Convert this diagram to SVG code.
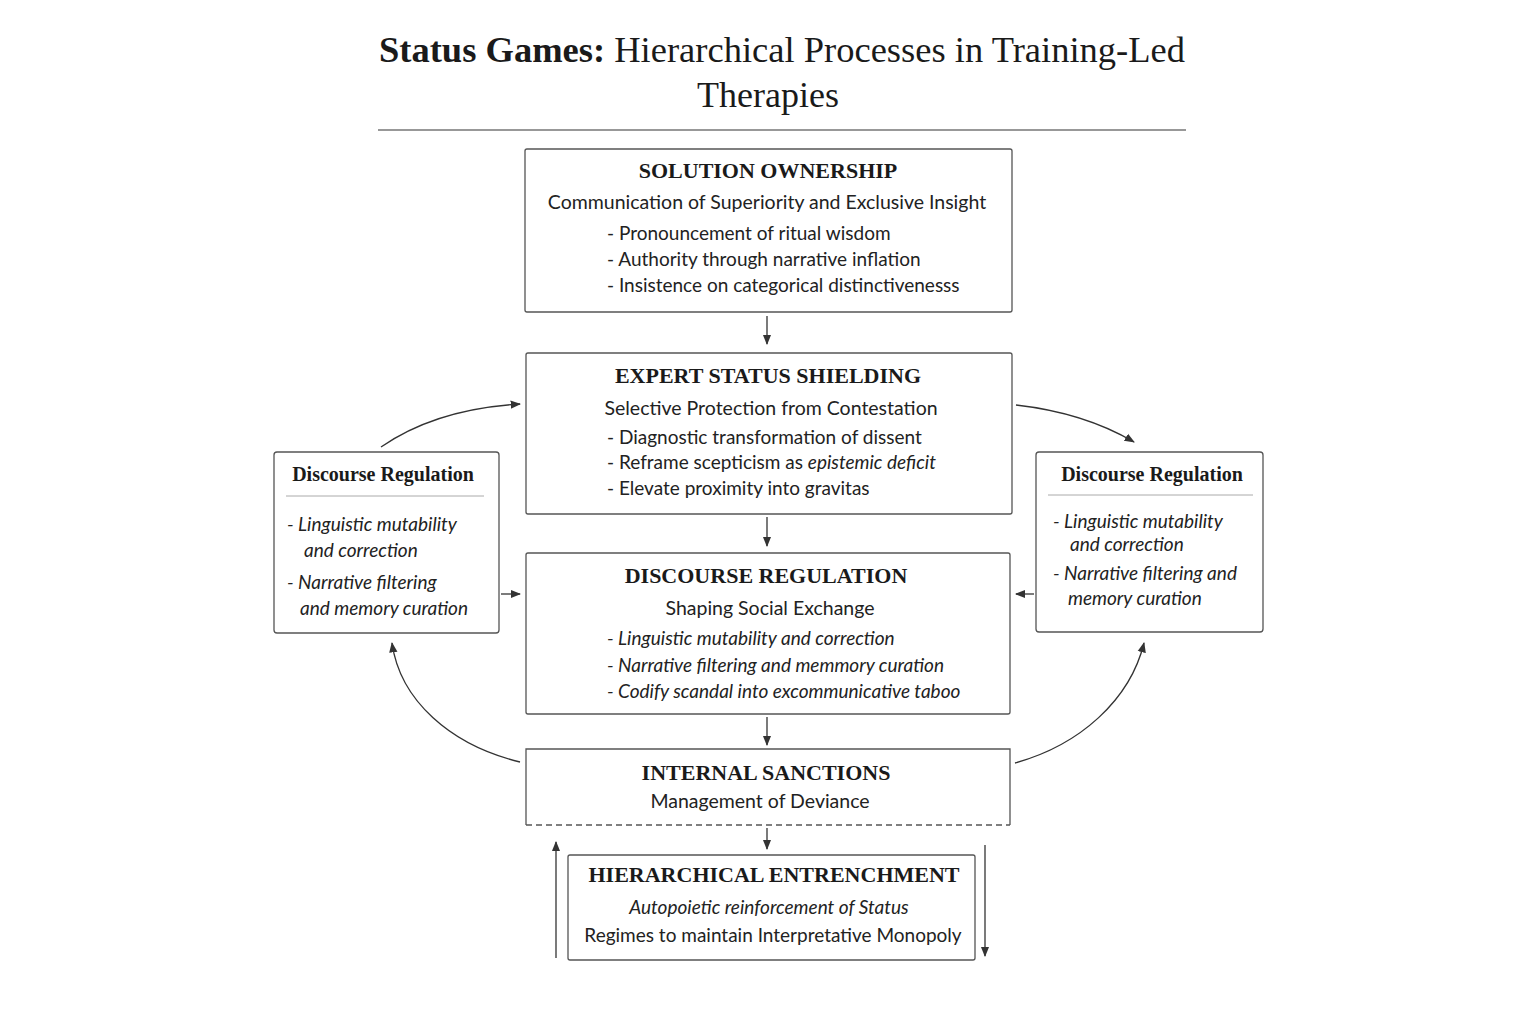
<svg xmlns="http://www.w3.org/2000/svg" width="1536" height="1024" viewBox="0 0 1536 1024">
<defs>
<marker id="ah" viewBox="0 0 10 10" refX="9" refY="5" markerWidth="8" markerHeight="8" orient="auto-start-reverse"><path d="M0,1 L10,5 L0,9 z" fill="#333"/></marker>
<style>
.box{fill:#fff;stroke:#555;stroke-width:1.3}
.h{font-family:"Liberation Serif",serif;font-weight:bold;font-size:22px;fill:#1a1a1a;text-anchor:middle}
.s{font-family:Lato,"Open Sans",sans-serif;font-size:19.5px;fill:#222;text-anchor:middle}
.b{font-family:Lato,"Open Sans",sans-serif;font-size:19px;fill:#222}
.i{font-style:italic}
.sh{font-family:"Liberation Serif",serif;font-weight:bold;font-size:20px;fill:#1a1a1a;text-anchor:middle}
.c{fill:none;stroke:#333;stroke-width:1.3;marker-end:url(#ah)}
</style>
</defs>
<rect width="1536" height="1024" fill="#fff"/>
<g id="title">
<text x="782" y="62" font-family="Liberation Serif,serif" font-size="36" fill="#1a1a1a" text-anchor="middle" textLength="806" lengthAdjust="spacingAndGlyphs"><tspan font-weight="bold">Status Games:</tspan> Hierarchical Processes in Training-Led</text>
<text x="768" y="107" font-family="Liberation Serif,serif" font-size="36" fill="#1a1a1a" text-anchor="middle">Therapies</text>
<line x1="378" y1="130" x2="1186" y2="130" stroke="#333" stroke-width="1.2"/>
</g>
<g id="n1">
<rect class="box" x="525" y="149" width="487" height="163" rx="2"/>
<text class="h" x="768" y="178">SOLUTION OWNERSHIP</text>
<text class="s" x="767" y="209">Communication of Superiority and Exclusive Insight</text>
<text class="b" x="607" y="240">-  Pronouncement of ritual wisdom</text>
<text class="b" x="607" y="266">-  Authority through narrative inflation</text>
<text class="b" x="607" y="292">-  Insistence on categorical distinctivenesss</text>
</g>
<g id="n2">
<rect class="box" x="526" y="353" width="486" height="161" rx="2"/>
<text class="h" x="768" y="383">EXPERT STATUS SHIELDING</text>
<text class="s" x="771" y="415">Selective Protection from Contestation</text>
<text class="b" x="607" y="444">-  Diagnostic transformation of dissent</text>
<text class="b" x="607" y="469">-  Reframe scepticism as <tspan class="i">epistemic deficit</tspan></text>
<text class="b" x="607" y="495">-  Elevate proximity into gravitas</text>
</g>
<g id="n3">
<rect class="box" x="526" y="553" width="484" height="161" rx="2"/>
<text class="h" x="766" y="583">DISCOURSE REGULATION</text>
<text class="s" x="770" y="615">Shaping Social Exchange</text>
<text class="b i" x="607" y="645">-  Linguistic mutability and correction</text>
<text class="b i" x="607" y="672">-  Narrative filtering and memmory curation</text>
<text class="b i" x="607" y="698">-  Codify scandal into excommunicative taboo</text>
</g>
<g id="n4">
<path d="M526,825 V749 H1010 V825" class="box"/>
<line x1="526" y1="825" x2="1010" y2="825" stroke="#555" stroke-width="1.3" stroke-dasharray="6,4"/>
<text class="h" x="766" y="780">INTERNAL SANCTIONS</text>
<text class="s" x="760" y="808">Management of Deviance</text>
</g>
<g id="n5">
<rect class="box" x="568" y="855" width="407" height="105" rx="2"/>
<text class="h" x="774" y="882" font-size="21">HIERARCHICAL ENTRENCHMENT</text>
<text class="b i" x="769" y="914" text-anchor="middle">Autopoietic reinforcement of Status</text>
<text class="b" x="773" y="942" text-anchor="middle">Regimes to maintain Interpretative Monopoly</text>
</g>
<g id="left">
<rect class="box" x="274" y="452" width="225" height="181" rx="3"/>
<text class="sh" x="383" y="481">Discourse Regulation</text>
<line x1="286" y1="496" x2="484" y2="496" stroke="#aaa"/>
<text class="b i" x="287" y="531">-  Linguistic mutability</text>
<text class="b i" x="304" y="557">and correction</text>
<text class="b i" x="287" y="589">-  Narrative filtering</text>
<text class="b i" x="300" y="615">and memory curation</text>
</g>
<g id="right">
<rect class="box" x="1036" y="452" width="227" height="180" rx="3"/>
<text class="sh" x="1152" y="481">Discourse Regulation</text>
<line x1="1048" y1="495" x2="1253" y2="495" stroke="#aaa"/>
<text class="b i" font-size="18" x="1053" y="528">-  Linguistic mutability</text>
<text class="b i" font-size="18" x="1070" y="551">and correction</text>
<text class="b i" font-size="18" x="1053" y="580">-  Narrative filtering and</text>
<text class="b i" font-size="18" x="1068" y="605">memory curation</text>
</g>
<g id="connectors">
<path class="c" d="M767,316 V344"/>
<path class="c" d="M767,517 V546"/>
<path class="c" d="M767,717 V745"/>
<path class="c" d="M767,828 V849" stroke-width="2"/>
<path class="c" d="M501,594 H520"/>
<path class="c" d="M1034,594 H1016"/>
<path class="c" d="M381,447 C420,420 470,407 520,404"/>
<path class="c" d="M1016,405 C1060,410 1100,422 1134,442"/>
<path class="c" d="M520,762 C450,745 400,700 392,643"/>
<path class="c" d="M1015,763 C1080,745 1130,700 1144,643"/>
<path class="c" d="M556,958 V842"/>
<path class="c" d="M985,845 V956"/>
</g>
</svg>
